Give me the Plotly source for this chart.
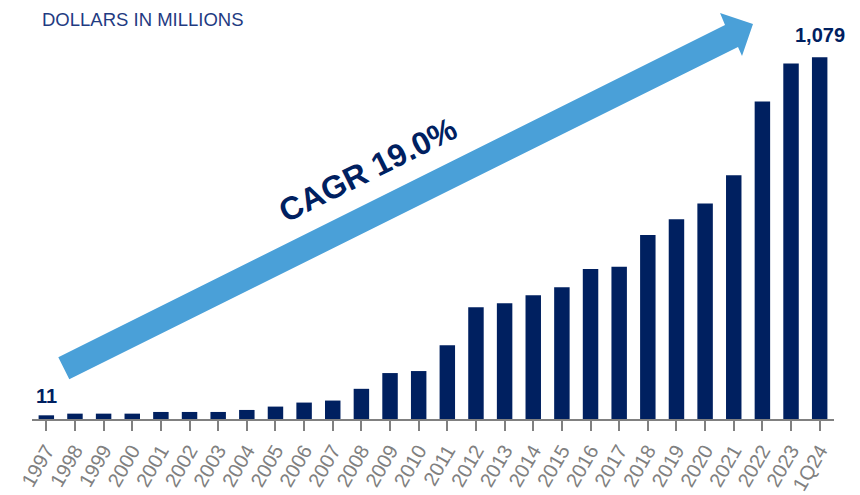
"""Revenue growth bars with CAGR arrow."""
import plotly.graph_objects as go

years = ["1997", "1998", "1999", "2000", "2001", "2002", "2003", "2004", "2005",
         "2006", "2007", "2008", "2009", "2010", "2011", "2012", "2013", "2014",
         "2015", "2016", "2017", "2018", "2019", "2020", "2021", "2022", "2023", "1Q24"]
revenue = [11, 16, 16, 16, 21, 21, 21, 27, 37, 49, 55, 90, 137, 143, 220, 333,
           345, 369, 393, 447, 454, 549, 596, 643, 727, 947, 1060, 1079]
cagr_label = "CAGR 19.0%"
unit_label = "DOLLARS IN MILLIONS"

NAVY = "#002060"
ARROW = "#4aa0d8"
GREY = "#808080"
FONT = "Arial, Liberation Sans, sans-serif"

# page body adds an 8px offset, so the figure is drawn 8px smaller
OFF = 8
W, H = 860 - OFF, 495 - OFF
L, R, T, B = 24, 26, 12, 76


def px(x):
    """screen x (px) -> paper x"""
    return (x - OFF - L) / (W - L - R)


def py(y):
    """screen y (px) -> paper y"""
    return (H - B - (y - OFF)) / (H - T - B)


fig = go.Figure()
fig.add_trace(go.Bar(x=years, y=revenue, marker=dict(color=NAVY, line=dict(width=0)),
                     hoverinfo="x+y"))

# first / last value labels (category index, since "1997" would read as an index)
for i in (0, len(revenue) - 1):
    fig.add_annotation(x=i, y=revenue[i], text=f"<b>{revenue[i]:,}</b>",
                       showarrow=False, yanchor="bottom", yshift=9 if i else 6,
                       font=dict(size=20, color=NAVY, family=FONT))

# CAGR arrow (decoration, pixel outline converted to paper units)
pts = [(58.3, 357.3), (725, 25), (720, 13), (753, 24), (742, 56), (738, 47), (69.3, 379.3)]
path = "M " + " L ".join(f"{px(a):.4f},{py(b):.4f}" for a, b in pts) + " Z"
fig.add_shape(type="path", path=path, xref="paper", yref="paper",
              fillcolor=ARROW, line=dict(width=0), layer="above")

fig.add_annotation(x=px(367.5), y=py(170), xref="paper", yref="paper", text=f"<b>{cagr_label}</b>",
                   showarrow=False, textangle=-26.5,
                   font=dict(size=32, color=NAVY, family=FONT))

fig.add_annotation(x=px(41), y=py(8), xref="paper", yref="paper", text=unit_label,
                   showarrow=False, xanchor="left", yanchor="top", borderpad=0,
                   font=dict(size=18.5, color="#1f3b82", family=FONT))

fig.update_layout(
    width=W, height=H, margin=dict(l=L, r=R, t=T, b=B),
    plot_bgcolor="white", paper_bgcolor="white", showlegend=False,
    bargap=0.46, font=dict(family=FONT),
    xaxis=dict(type="category", range=[-0.5, len(years) - 0.5],
               showline=True, linecolor=GREY, linewidth=2,
               ticks="outside", ticklen=10, tickwidth=2, tickcolor=GREY,
               tickangle=-60, tickfont=dict(size=20, color=GREY), showgrid=False,
               automargin=False),
    yaxis=dict(range=[0, 1190], visible=False, showgrid=False, zeroline=False),
)

fig.write_html("out.html")
